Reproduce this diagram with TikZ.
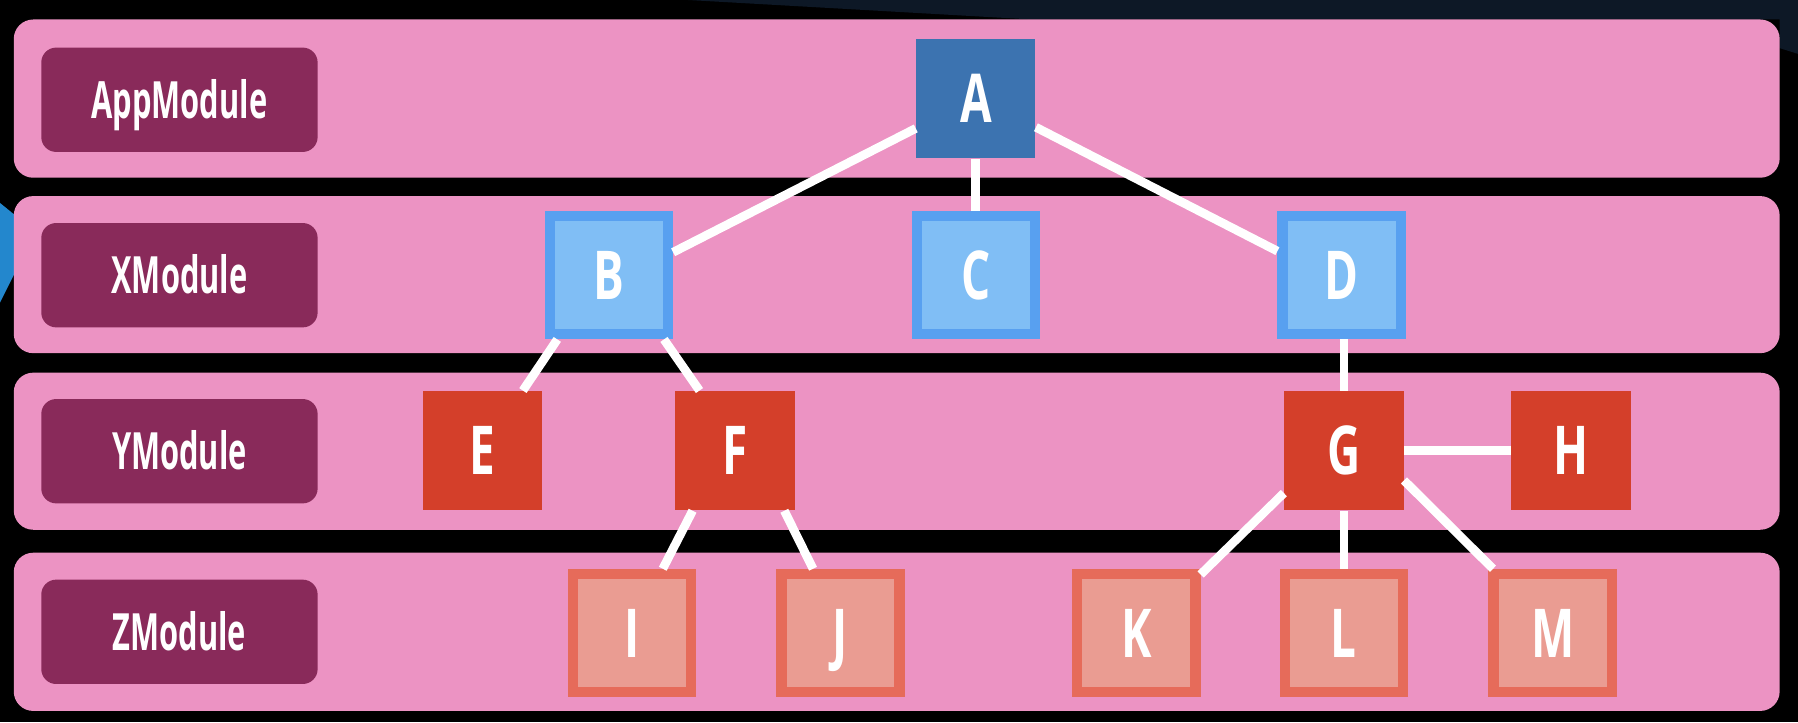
\documentclass[tikz,border=0pt]{standalone}
\usepackage{fontspec}
\usetikzlibrary{calc}
\newfontfamily\condfont[FakeStretch=0.6]{Open Sans}
\newfontfamily\letterfont[FakeStretch=0.68]{Open Sans}
\definecolor{bandpink}{RGB}{236,147,195}
\definecolor{labelplum}{RGB}{137,42,90}
\definecolor{nodeA}{RGB}{60,115,176}
\definecolor{xborder}{RGB}{88,160,240}
\definecolor{xfill}{RGB}{128,190,245}
\definecolor{yred}{RGB}{212,63,42}
\definecolor{zborder}{RGB}{230,107,90}
\definecolor{zfill}{RGB}{234,156,146}
\definecolor{navy}{RGB}{13,24,38}
\definecolor{leftblue}{RGB}{35,135,205}
\begin{document}
\begin{tikzpicture}[x=0.5pt,y=-0.5pt,
  band/.style={fill=bandpink, rounded corners=8.5pt},
  modlabel/.style={fill=labelplum, rounded corners=6.5pt, minimum width=120.5pt,
    minimum height=45.5pt, inner sep=0pt, text=white,
    font=\condfont\bfseries\fontsize{22.4}{26}\selectfont, text height=16pt, text depth=0pt},
  letter/.style={inner sep=0pt, text=white,
    font=\letterfont\bfseries\fontsize{29.4}{34}\selectfont, text height=21pt, text depth=0pt},
  solidbox/.style={letter, minimum size=52pt},
  framedbox/.style={letter, minimum size=51.5pt, line width=4.5pt},
  abox/.style={solidbox, fill=nodeA},
  xbox/.style={framedbox, fill=xfill, draw=xborder},
  ybox/.style={solidbox, fill=yred},
  zbox/.style={framedbox, fill=zfill, draw=zborder},
  link/.style={draw=white, line width=3.8pt}
]
% background
\fill[black] (0,0) rectangle (1568,630);
\useasboundingbox (0,0) rectangle (1568,630);
\fill[navy] (600,0) -- (1568,0) -- (1568,47) -- (1552,42) -- (1552,17) -- (900,17) -- cycle;
\fill[leftblue] (0,177) -- (16,190) -- (16,232) -- (0,264) -- cycle;
% bands
\fill[band] (12,17) rectangle (1552,155);
\fill[band] (12,171) rectangle (1552,308);
\fill[band] (12,325) rectangle (1552,462);
\fill[band] (12,482) rectangle (1552,620);
% module labels
\node[modlabel] (appm) at (156.5,87) {AppModule};
\node[modlabel] (xm) at (156.5,240) {XModule};
\node[modlabel] (ym) at (156.5,393.5) {YModule};
\node[modlabel] (zm) at (156.5,551) {ZModule};
% nodes
\node[abox] (A) at (851,86) {A};
\node[xbox] (B) at (531,240) {B};
\node[xbox] (C) at (851,240) {C};
\node[xbox] (D) at (1170,240) {D};
\node[ybox] (E) at (421,393) {E};
\node[ybox] (F) at (641,393) {F};
\node[ybox] (G) at (1172,393) {G};
\node[ybox] (H) at (1370,393) {H};
\node[zbox] (I) at (551,552) {I};
\node[zbox] (J) at (733,552) {J};
\node[zbox] (K) at (991,552) {K};
\node[zbox] (L) at (1172,552) {L};
\node[zbox] (M) at (1354,552) {M};
% connectors
\path[link] ($(A.west)+(0,26)$) -- ($(B.east)+(0,-20)$);
\path[link] (A) -- (C);
\path[link] ($(A.east)+(0,25)$) -- ($(D.west)+(0,-21)$);
\path[link] ($(B.south)+(-45,0)$) -- ($(E.north)+(35,0)$);
\path[link] ($(B.south)+(48,0)$) -- ($(F.north)+(-31,0)$);
\path[link] (D.south -| G.north) -- (G.north);
\path[link] (G) -- (H);
\path[link] ($(F.south)+(-37,0)$) -- ($(I.north)+(27,0)$);
\path[link] ($(F.south)+(43,0)$) -- ($(J.north)+(-24,0)$);
\path[link] ($(G.west)+(0,37)$) -- ($(K.north east)+(0,5)$);
\path[link] (G) -- (L);
\path[link] ($(G.east)+(0,26)$) -- ($(M.north west)+(4,0)$);
\end{tikzpicture}
\end{document}
